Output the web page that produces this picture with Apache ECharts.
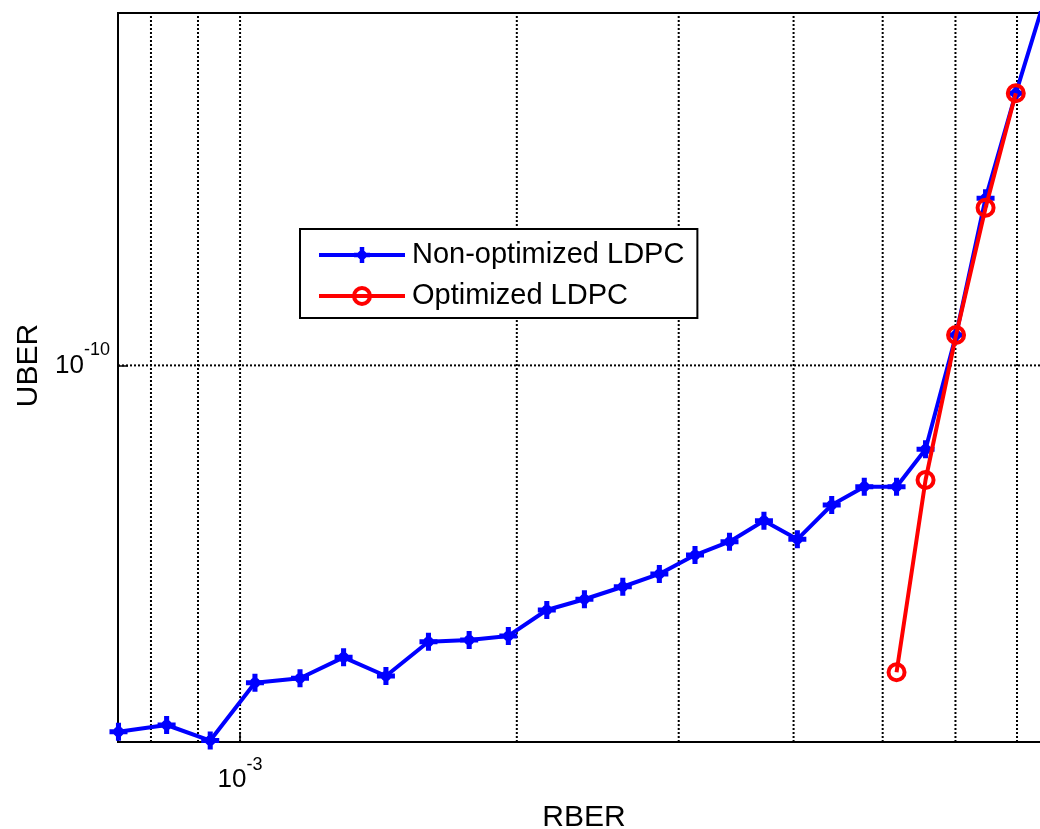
<!DOCTYPE html>
<html>
<head>
<meta charset="utf-8">
<script src="https://cdn.jsdelivr.net/npm/echarts@6/dist/echarts.min.js"></script>
<style>
html,body{margin:0;padding:0;background:#fff;}
#chart{width:1040px;height:829px;}
</style>
</head>
<body>
<div id="chart"></div>
<script>
// ---- data ----
const rberNonOpt = [7.375e-4, 8.32e-4, 9.28e-4, 1.038e-3, 1.162e-3, 1.296e-3, 1.441e-3, 1.603e-3, 1.775e-3, 1.958e-3,
                    2.156e-3, 2.369e-3, 2.608e-3, 2.858e-3, 3.125e-3, 3.407e-3, 3.714e-3, 4.038e-3, 4.401e-3, 4.775e-3,
                    5.177e-3, 5.567e-3, 6.009e-3, 6.470e-3, 6.979e-3, 7.509e-3];
const uberNonOpt = [1.323e-11, 1.373e-11, 1.26e-11, 1.734e-11, 1.777e-11, 1.995e-11, 1.80e-11, 2.175e-11, 2.196e-11, 2.245e-11,
                    2.591e-11, 2.749e-11, 2.946e-11, 3.161e-11, 3.51e-11, 3.777e-11, 4.242e-11, 3.828e-11, 4.626e-11, 5.119e-11,
                    5.119e-11, 6.292e-11, 1.183e-10, 2.516e-10, 4.493e-10, 7.60e-10];
const rberOpt = [5.177e-3, 5.567e-3, 6.009e-3, 6.470e-3, 6.979e-3];
const uberOpt = [1.837e-11, 5.311e-11, 1.183e-10, 2.388e-10, 4.493e-10];
const seriesNames = ['Non-optimized LDPC', 'Optimized LDPC'];
const xGridValues = [8e-4, 9e-4, 1e-3, 2e-3, 3e-3, 4e-3, 5e-3, 6e-3, 7e-3];
const yGridValues = [1e-10];
const xLabelExponents = [-3];
const yLabelExponents = [-10];
const X_MIN = 7.366e-4, X_MAX = 7.603e-3;
const Y_MIN = 1.25e-11, Y_MAX = 7e-10;

const FONT = '"Liberation Sans", Arial, Helvetica, sans-serif';
const plusStar = 'path://M5.75,0 L10.25,0 L10.25,5.75 L16,5.75 L16,10.25 L10.25,10.25 L10.25,16 L5.75,16 L5.75,10.25 L0,10.25 L0,5.75 L5.75,5.75 Z M8,1.5 L14.5,8 L8,14.5 L1.5,8 Z';

function powLabel(exps) {
  return function (v) {
    const e = Math.log10(v);
    for (const k of exps) {
      if (Math.abs(e - k) < 1e-6) return '{b|10}{s|' + k + '}';
    }
    return '';
  };
}
const rich = {
  b: {fontSize: 26, fontFamily: FONT, color: '#000', lineHeight: 48},
  s: {fontSize: 18, fontFamily: FONT, color: '#000', verticalAlign: 'top'}
};

const gridStyle = {color: '#000', type: [2, 2], width: 2};
const gridSeries = xGridValues.map(v => ({
  type: 'line', silent: true, z: 1, symbol: 'none', clip: true,
  data: [[v, Y_MIN], [v, Y_MAX]], lineStyle: gridStyle, emphasis: {disabled: true}
})).concat(yGridValues.map(v => ({
  type: 'line', silent: true, z: 1, symbol: 'none', clip: true,
  data: [[X_MIN, v], [X_MAX, v]], lineStyle: gridStyle, emphasis: {disabled: true}
})));

const chart = echarts.init(document.getElementById('chart'), null, {renderer: 'canvas'});
chart.setOption({
  animation: false,
  backgroundColor: '#fff',
  grid: {left: 118, top: 13, width: 932, bottom: 87, outerBoundsMode: 'none', containLabel: false,
         show: true, borderColor: '#000', borderWidth: 2, backgroundColor: '#fff'},
  legend: {
    orient: 'vertical', left: 300, top: 229,
    backgroundColor: '#fff', borderColor: '#000', borderWidth: 2,
    padding: [11, 13, 7, 17],
    itemWidth: 86, itemHeight: 20, itemGap: 11,
    textStyle: {fontFamily: FONT, fontSize: 29, color: '#000', lineHeight: 30, padding: [0, 0, 0, 2]},
    data: [
      {name: seriesNames[0], lineStyle: {width: 4}},
      {name: seriesNames[1], lineStyle: {width: 4}, itemStyle: {borderWidth: 4}}
    ]
  },
  xAxis: {
    type: 'log', logBase: 10, min: X_MIN, max: X_MAX,
    splitLine: {show: false},
    axisLine: {show: true, onZero: false, lineStyle: {color: '#000', width: 2}},
    axisTick: {show: true, inside: true, length: 10, lineStyle: {color: '#000', width: 1.5}},
    axisLabel: {formatter: powLabel(xLabelExponents), margin: 14, rich: rich, showMinLabel: false, showMaxLabel: false},
    name: 'RBER', nameLocation: 'middle', nameGap: 61,
    nameTextStyle: {fontSize: 30, fontFamily: FONT, color: '#000'}
  },
  yAxis: {
    type: 'log', logBase: 10, min: Y_MIN, max: Y_MAX,
    splitLine: {show: false},
    axisLine: {show: true, onZero: false, lineStyle: {color: '#000', width: 2}},
    axisTick: {show: true, inside: true, length: 10, lineStyle: {color: '#000', width: 1.5}},
    axisLabel: {formatter: powLabel(yLabelExponents), margin: 8, rich: rich, showMinLabel: false, showMaxLabel: false},
    name: 'UBER', nameLocation: 'middle', nameGap: 73, nameRotate: 90,
    nameTextStyle: {fontSize: 30, fontFamily: FONT, color: '#000', padding: [0, 0, 0, 24]}
  },
  series: gridSeries.concat([
    {
      name: seriesNames[0], type: 'line', clip: true, z: 2,
      data: rberNonOpt.map((x, i) => [x, uberNonOpt[i]]),
      symbol: plusStar, symbolSize: 18,
      itemStyle: {color: '#0000ff'},
      lineStyle: {color: '#0000ff', width: 4}
    },
    {
      name: seriesNames[1], type: 'line', clip: true, z: 3,
      data: rberOpt.map((x, i) => [x, uberOpt[i]]),
      symbol: 'circle', symbolSize: 16,
      itemStyle: {color: 'rgba(255,0,0,0)', borderColor: '#ff0000', borderWidth: 4},
      lineStyle: {color: '#ff0000', width: 4}
    }
  ])
});
</script>
</body>
</html>
